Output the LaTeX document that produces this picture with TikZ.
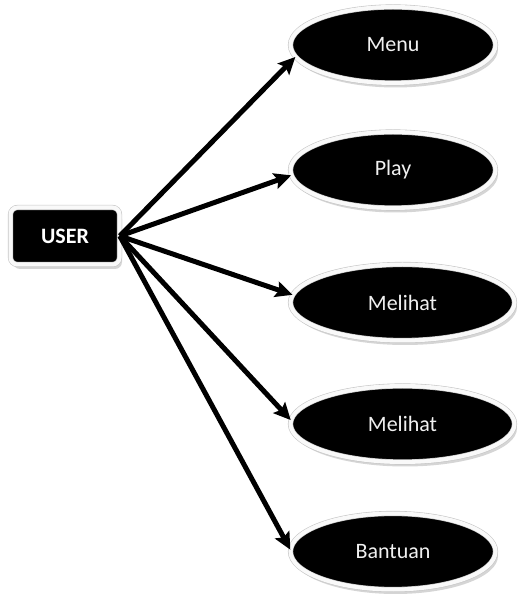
\documentclass[tikz,border=0pt]{standalone}
\usepackage{fontspec}
\setmainfont{Carlito}
\usepackage{tikz}
\usetikzlibrary{arrows.meta}
\usetikzlibrary{shapes.geometric,shadows}
\tikzset{
    usecase/.style={
        ellipse,
        draw=gray!45,
        double=white!95!gray,
        double distance=4pt,
        line width=0.6pt,
        fill=black,
        text=white!88!gray,
        minimum height=76pt,
        inner sep=0pt,
        font=\fontsize{22}{24}\selectfont,
        drop shadow={shadow xshift=2.5pt, shadow yshift=-4.5pt, fill=gray!65}
    },
    actor/.style={
        rectangle,
        rounded corners=7pt,
        draw=gray!45,
        double=white!95!gray,
        double distance=4pt,
        line width=0.6pt,
        fill=black,
        text=white,
        minimum width=109pt,
        minimum height=57pt,
        inner sep=0pt,
        font=\fontsize{22}{24}\selectfont\bfseries,
        drop shadow={shadow xshift=2.5pt, shadow yshift=-4.5pt, fill=gray!65}
    },
    every edge/.style={
        draw,
        -{Stealth[length=17pt, width=16pt, inset=3pt]},
        line width=5pt
    }
}

\begin{document}
\begin{tikzpicture}[x=1pt, y=1pt]
    \useasboundingbox (0,0) rectangle (518,596);
    % Actor
    \node[actor] (user) at (65,360) {USER};

    % Use cases
    \node[usecase, minimum width=205pt] (menu) at (393,551) {Menu};
    \node[usecase, minimum width=205pt] (play) at (393,426) {Play};
    \node[usecase, minimum width=224pt] (melihat1) at (402.5,293.5) {Melihat};
    \node[usecase, minimum width=224pt] (melihat2) at (402.5,172) {Melihat};
    \node[usecase, minimum width=205pt] (bantuan) at (393,44.5) {Bantuan};

    % Edges
    \draw (user.east) edge (menu.187);
    \draw (user.east) edge (play.183);
    \draw (user.east) edge (melihat1.176);
    \draw (user.east) edge (melihat2.178);
    \draw (user.east) edge (bantuan.179);
\end{tikzpicture}
\end{document}
